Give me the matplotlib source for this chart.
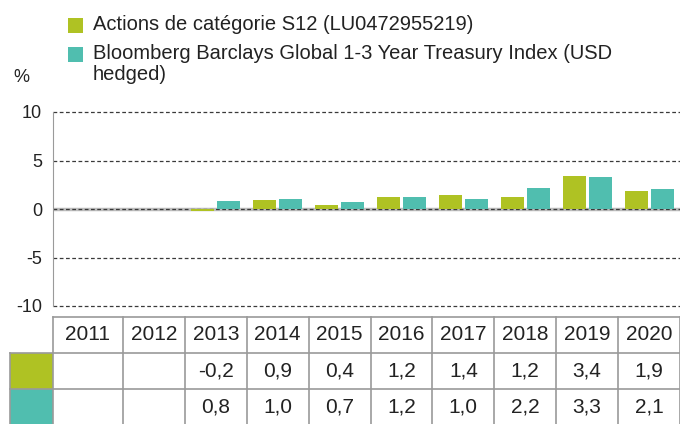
import numpy as np
import matplotlib
matplotlib.use("Agg")
import matplotlib.pyplot as plt
from matplotlib.patches import Rectangle

plt.rcParams['font.family'] = ['Liberation Sans', 'DejaVu Sans']

years = ['2011', '2012', '2013', '2014', '2015', '2016', '2017', '2018', '2019', '2020']
fund = [np.nan, np.nan, -0.2, 0.9, 0.4, 1.2, 1.4, 1.2, 3.4, 1.9]
index = [np.nan, np.nan, 0.8, 1.0, 0.7, 1.2, 1.0, 2.2, 3.3, 2.1]
legend_labels = ['Actions de catégorie S12 (LU0472955219)',
                 'Bloomberg Barclays Global 1-3 Year Treasury Index (USD\nhedged)']
green = '#afc223'
teal = '#50beaf'
line_grey = '#9a9a9a'
text_col = '#222222'

W, H = 680, 424
fig = plt.figure(figsize=(W / 100, H / 100), dpi=100)


def fx(px):
    return px / W


def fy(py):
    return 1 - py / H


# chart area; columns are ~62 px wide, the first one a bit wider
ax_left, ax_right, ax_top, ax_bot = 53, 680, 112, 306
unit = 61.9
x_lo = len(years) - 0.5 - (ax_right - ax_left) / unit
ax = fig.add_axes([fx(ax_left), fy(ax_bot), fx(ax_right - ax_left), (ax_bot - ax_top) / H])
x = np.arange(len(years))
ax.bar(x - 0.21, fund, width=0.37, color=green, zorder=3)
ax.bar(x + 0.21, index, width=0.37, color=teal, zorder=3)
ax.set_xlim(x_lo, len(years) - 0.5)
ax.set_ylim(-10, 10)
ax.set_yticks([-10, -5, 0, 5, 10])
ax.set_yticklabels(['-10', '-5', '0', '5', '10'], fontsize=13)
ax.set_xticks([])
ax.tick_params(axis='y', length=0, pad=8, colors=text_col)
for s in ['top', 'right', 'bottom']:
    ax.spines[s].set_visible(False)
ax.spines['left'].set_color(line_grey)
ax.axhline(0, color='#bdbdbd', lw=2.5, zorder=1)
for yv in [-10, -5, 0, 5, 10]:
    ax.axhline(yv, color='#3a3a3a', lw=0.9, ls=(0, (3, 2)), zorder=2, clip_on=False)

# legend
leg_y = [25, 54]
for lab, col, yy in zip(legend_labels, [green, teal], leg_y):
    fig.add_artist(Rectangle((fx(68), fy(yy + 8)), fx(15), 15 / H,
                             transform=fig.transFigure, color=col, lw=0))
    fig.text(fx(93), fy(yy - 10), lab, fontsize=14.5, va='top', ha='left',
             color=text_col, linespacing=1.1)
fig.text(fx(13), fy(77), '%', fontsize=13, va='center', ha='left', color=text_col)

# table
tb_left, tb_top = 10, 317
row_h = 36
tax = fig.add_axes([fx(tb_left), 0, fx(W - tb_left), fy(tb_top)])
left_x = x_lo - (ax_left - tb_left) / unit
tax.set_xlim(left_x, len(years) - 0.5)
tax.set_ylim((H - tb_top) / row_h, 0)
tax.axis('off')

# colour cells
for r, col in enumerate([green, teal]):
    tax.add_patch(Rectangle((left_x, r + 1), x_lo - left_x, 1, color=col, lw=0))

lkw = dict(color=line_grey, lw=1.2, clip_on=False)
tax.plot([x_lo, len(years) - 0.5], [0, 0], **lkw)
for r in [1, 2]:
    tax.plot([left_x, len(years) - 0.5], [r, r], **lkw)
edges = [x_lo] + [i + 0.5 for i in range(len(years))]
for e in edges:
    tax.plot([e, e], [0, 3], **lkw)
tax.plot([left_x, left_x], [1, 3], **lkw)


def fmt(v):
    return '' if np.isnan(v) else f'{v:.1f}'.replace('.', ',')


for i, yr in enumerate(years):
    cx = (edges[i] + edges[i + 1]) / 2
    tax.text(cx, 0.5, yr, ha='center', va='center', fontsize=15, color=text_col)
    tax.text(cx, 1.5, fmt(fund[i]), ha='center', va='center', fontsize=15, color=text_col)
    tax.text(cx, 2.5, fmt(index[i]), ha='center', va='center', fontsize=15, color=text_col)

fig.savefig('out.png', dpi=100)
